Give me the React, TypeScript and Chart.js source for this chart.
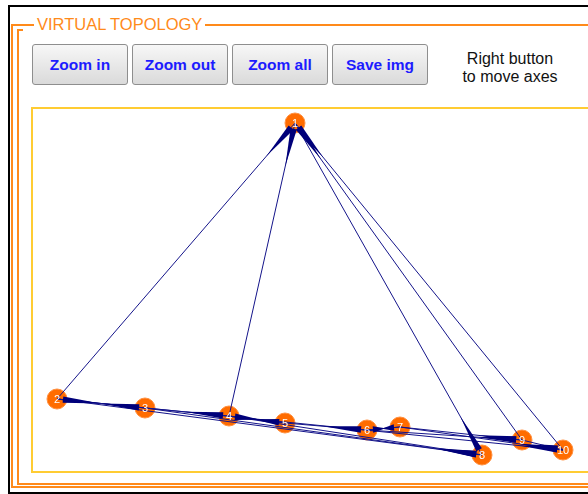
import React, { useEffect, useRef } from "react";
import { Chart, registerables } from "chart.js";

Chart.register(...registerables);

// ---- data ----
const nodeIds = ["1", "2", "3", "4", "5", "6", "7", "8", "9", "10"];
const nodeX = [262, 24, 112, 196, 252, 334, 367, 449, 489, 530];
const nodeY = [14, 290, 299, 307, 314, 321, 318, 346, 331, 341];
const edgeFrom = ["2", "4", "9", "10", "1", "3", "2", "3", "5", "4", "5", "7", "6", "2", "3", "4", "6", "7", "7", "9", "2"];
const edgeTo = ["1", "1", "1", "1", "8", "2", "3", "4", "4", "5", "6", "6", "7", "8", "8", "8", "9", "9", "10", "10", "10"];
const buttonLabels = ["Zoom in", "Zoom out", "Zoom all", "Save img"];
const hintLines = ["Right button", "to move axes"];
const panelTitle = "VIRTUAL TOPOLOGY";

const PLOT_W = 555;
const PLOT_H = 362;
const EDGE = "#14148a";
const NODE = "#ff6c00";
const ORANGE = "#ff8a1a";
const FONT = "'Liberation Sans', Arial, sans-serif";

const overlayPlugin = {
  id: "overlay",
  afterDatasetsDraw(chart: any) {
    const ctx = chart.ctx;
    ctx.save();
    ctx.fillStyle = "#00007a";
    for (let i = 0; i < edgeFrom.length; i++) {
      const meta = chart.getDatasetMeta(i + 1);
      const a = meta.data[0];
      const b = meta.data[1];
      if (!a || !b) continue;
      const dx = b.x - a.x;
      const dy = b.y - a.y;
      const len = Math.hypot(dx, dy);
      if (len < 1) continue;
      const ux = dx / len;
      const uy = dy / len;
      const px = -uy;
      const py = ux;
      const tip = 6;
      const tail = Math.min(44, len * 0.55);
      const hw = 3.2;
      const wx = b.x - ux * tip;
      const wy = b.y - uy * tip;
      const tx = b.x - ux * tail;
      const ty = b.y - uy * tail;
      ctx.beginPath();
      ctx.moveTo(tx, ty);
      ctx.lineTo(wx + px * hw, wy + py * hw);
      ctx.lineTo(wx - px * hw, wy - py * hw);
      ctx.closePath();
      ctx.fill();
    }
    const nm = chart.getDatasetMeta(0);
    ctx.fillStyle = "#ffffff";
    ctx.font = "11px " + FONT;
    ctx.textAlign = "center";
    ctx.textBaseline = "middle";
    nm.data.forEach((p: any, i: number) => {
      ctx.fillText(nodeIds[i], p.x, p.y + 0.5);
    });
    ctx.restore();
  },
};

function TopologyChart() {
  const ref = useRef<HTMLCanvasElement | null>(null);
  useEffect(() => {
    if (!ref.current) return;
    const pos = (id: string) => {
      const k = nodeIds.indexOf(id);
      return { x: nodeX[k], y: nodeY[k] };
    };
    const datasets: any[] = [
      {
        label: "nodes",
        data: nodeIds.map((id) => pos(id)),
        showLine: false,
        pointRadius: 10,
        pointStyle: "circle",
        backgroundColor: NODE,
        borderColor: "#ff9040",
        borderWidth: 1,
        order: 10,
        clip: false,
      },
    ];
    edgeFrom.forEach((f, i) => {
      datasets.push({
        label: f + "-" + edgeTo[i],
        data: [pos(f), pos(edgeTo[i])],
        showLine: true,
        borderColor: EDGE,
        borderWidth: 1,
        pointRadius: 0,
        order: 1,
        clip: false,
      });
    });
    const chart = new Chart(ref.current, {
      type: "scatter",
      data: { datasets },
      options: {
        animation: false,
        responsive: false,
        devicePixelRatio: 1,
        events: [],
        layout: { padding: 0, autoPadding: false },
        plugins: { legend: { display: false }, tooltip: { enabled: false } },
        scales: {
          x: { type: "linear", min: 0, max: PLOT_W, display: false },
          y: { type: "linear", min: 0, max: PLOT_H, reverse: true, display: false },
        },
      },
      plugins: [overlayPlugin],
    } as any);
    return () => chart.destroy();
  }, []);
  return (
    <canvas
      ref={ref}
      width={PLOT_W}
      height={PLOT_H}
      style={{ position: "absolute", left: 33, top: 109, width: PLOT_W, height: PLOT_H, display: "block" }}
    />
  );
}

export default function App() {
  const abs: React.CSSProperties = { position: "absolute", boxSizing: "border-box" };
  return (
    <div
      style={{
        position: "fixed",
        left: 0,
        top: 0,
        width: 588,
        height: 494,
        overflow: "hidden",
        background: "#ffffff",
        fontFamily: FONT,
      }}
    >
      {/* black outer frame */}
      <div style={{ ...abs, left: 8, top: 5, width: 800, height: 489, borderTop: "2px solid #000", borderLeft: "2px solid #000", borderBottom: "2px solid #000" }} />
      {/* orange double frame */}
      <div style={{ ...abs, left: 11, top: 24, width: 800, height: 464, border: `2px solid ${ORANGE}` }} />
      <div style={{ ...abs, left: 17, top: 29, width: 800, height: 456, borderLeft: `2px solid ${ORANGE}`, borderBottom: `2px solid ${ORANGE}` }} />
      <div style={{ ...abs, left: 17, top: 29, width: 6, height: 2, background: ORANGE }} />
      {/* legend title */}
      <div
        style={{
          ...abs,
          left: 34,
          top: 15,
          width: 171,
          height: 19,
          lineHeight: "19px",
          background: "#fff",
          color: ORANGE,
          fontSize: 16.5,
          paddingLeft: 3,
          whiteSpace: "nowrap",
        }}
      >
        {panelTitle}
      </div>
      {/* buttons */}
      {buttonLabels.map((b, i) => (
        <div
          key={b}
          style={{
            ...abs,
            left: 32 + i * 100,
            top: 44,
            width: 96,
            height: 41,
            border: "1px solid #8e8e8e",
            borderRadius: 3,
            background: "linear-gradient(#f7f7f7, #dadada)",
            color: "#1c1cff",
            fontWeight: "bold",
            fontSize: 15.5,
            display: "flex",
            alignItems: "center",
            justifyContent: "center",
            whiteSpace: "nowrap",
          }}
        >
          {b}
        </div>
      ))}
      {/* hint */}
      <div
        style={{
          ...abs,
          left: 445,
          top: 50,
          width: 130,
          textAlign: "center",
          fontSize: 16,
          lineHeight: "18px",
          color: "#111",
        }}
      >
        {hintLines.map((l) => (
          <div key={l}>{l}</div>
        ))}
      </div>
      {/* plot frame */}
      <div style={{ ...abs, left: 31, top: 107, width: 800, height: 366, border: "2px solid #ffcc33" }} />
      <TopologyChart />
    </div>
  );
}
